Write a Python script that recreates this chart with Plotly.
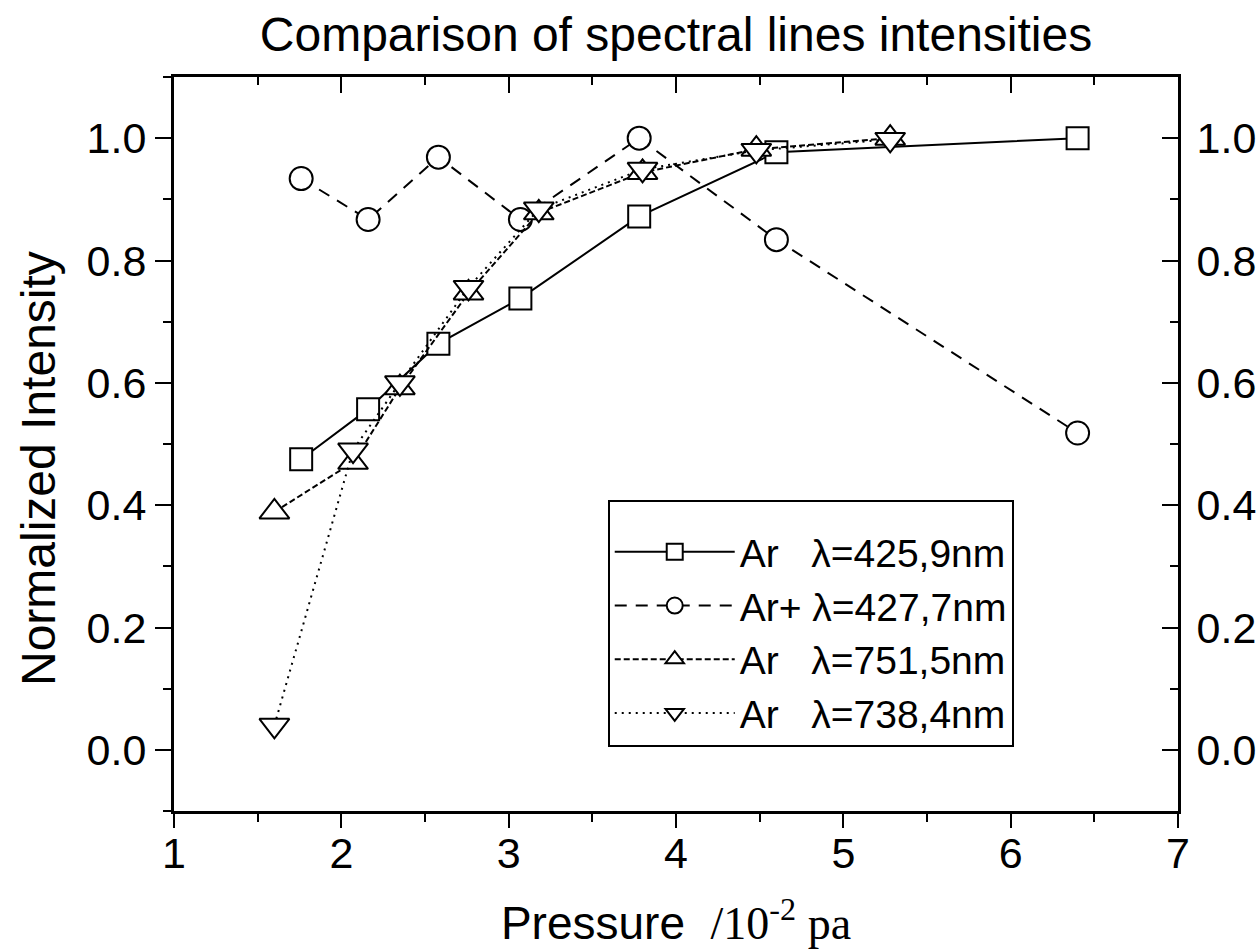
import plotly.graph_objects as go

# Data
x_sq = [1.76, 2.16, 2.58, 3.07, 3.78, 4.60, 6.40]
y_sq = [0.475, 0.557, 0.664, 0.738, 0.872, 0.977, 1.0]

x_ci = [1.76, 2.16, 2.58, 3.07, 3.78, 4.60, 6.40]
y_ci = [0.934, 0.867, 0.969, 0.867, 1.0, 0.834, 0.518]

x_up = [1.60, 2.07, 2.35, 2.76, 3.18, 3.80, 4.48, 5.28]
y_up = [0.389, 0.470, 0.592, 0.747, 0.878, 0.944, 0.982, 1.0]

x_dn = [1.60, 2.07, 2.35, 2.76, 3.18, 3.80, 4.48, 5.28]
y_dn = [0.040, 0.490, 0.600, 0.756, 0.884, 0.949, 0.980, 0.998]

names = [
    "Ar\u00a0\u00a0\u00a0λ=425,9nm",
    "Ar+ λ=427,7nm",
    "Ar\u00a0\u00a0\u00a0λ=751,5nm",
    "Ar\u00a0\u00a0\u00a0λ=738,4nm",
]

FONT = "Liberation Sans, Arial, sans-serif"

fig = go.Figure()
series = [
    (x_sq, y_sq, "square", "solid", 22),
    (x_ci, y_ci, "circle", "12px,9px", 23),
    (x_up, y_up, "triangle-up", "6px,3px", 26),
    (x_dn, y_dn, "triangle-down", "2px,5px", 26),
]
for (xs, ys, sym, dash, sz), nm in zip(series, names):
    fig.add_trace(go.Scatter(
        x=xs, y=ys, name=nm, mode="lines+markers",
        line=dict(color="black", width=2, dash=dash),
        marker=dict(symbol=sym, size=sz, color="white",
                    line=dict(color="black", width=2)),
    ))

# dummy trace for mirrored axes
fig.add_trace(go.Scatter(x=[None], y=[None], xaxis="x2", yaxis="y2",
                         showlegend=False, hoverinfo="skip"))

axis_common = dict(showline=True, linewidth=3, linecolor="black",
                   showgrid=False, zeroline=False, tickcolor="black",
                   tickwidth=2, automargin=False)

fig.update_layout(
    width=1260, height=952,
    margin=dict(l=174, r=82, t=77, b=141),
    paper_bgcolor="white", plot_bgcolor="white",
    font=dict(family=FONT, color="black"),
    title=dict(text="Comparison of spectral lines intensities",
               x=0.5, xref="paper", y=1 - 34 / 952, yref="container",
               yanchor="middle", font=dict(size=48, family=FONT)),
    xaxis=dict(range=[1, 7], tick0=1, dtick=1, ticks="outside", ticklen=14,
               tickfont=dict(size=43), ticklabelstandoff=-12,
               minor=dict(dtick=0.5, ticklen=8, tickwidth=2, ticks="outside",
                          tickcolor="black"),
               title=dict(text="Pressure  <span style='font-family:Liberation Serif'>/10<sup>-2</sup> pa</span>",
                          font=dict(size=46), standoff=32),
               **axis_common),
    xaxis2=dict(range=[1, 7], tick0=1, dtick=1, overlaying="x", side="top",
                ticks="inside", ticklen=16, showticklabels=False,
                minor=dict(dtick=0.5, ticklen=8, tickwidth=2, ticks="inside",
                           tickcolor="black"),
                **axis_common),
    yaxis=dict(range=[-0.1, 1.1], tick0=0, dtick=0.2, tickformat=".1f",
               ticks="outside", ticklen=16, tickfont=dict(size=43),
               minor=dict(dtick=0.1, ticklen=8, tickwidth=2, ticks="outside",
                          tickcolor="black"),
               **axis_common),
    yaxis2=dict(range=[-0.1, 1.1], tick0=0, dtick=0.2, tickformat=".1f",
                overlaying="y", side="right", ticks="inside", ticklen=16,
                tickfont=dict(size=43), showticklabels=True,
                ticklabelstandoff=7,
                minor=dict(dtick=0.1, ticklen=8, tickwidth=2, ticks="inside",
                           tickcolor="black"),
                **axis_common),
    legend=dict(x=0.432, y=0.424, xanchor="left", yanchor="top",
                bgcolor="white", bordercolor="black", borderwidth=2,
                font=dict(size=39, family=FONT), itemwidth=120,
                tracegroupgap=0,
                title=dict(text="\u00a0", font=dict(size=14))),
    showlegend=True,
    annotations=[dict(text="Normalized Intensity", textangle=-90,
                      xref="paper", yref="paper",
                      x=(38 - 174) / 1004, y=(811 - 469) / 734,
                      xanchor="center", yanchor="middle", showarrow=False,
                      font=dict(size=48, family=FONT))],
)

fig.write_html("out.html")
